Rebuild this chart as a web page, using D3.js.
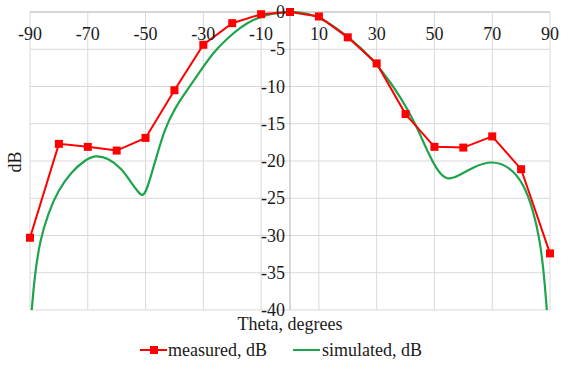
<!DOCTYPE html>
<html>
<head>
<meta charset="utf-8">
<script src="https://cdn.jsdelivr.net/npm/d3@7"></script>
</head>
<body style="margin:0">
<svg id="fig" width="563" height="377"></svg>
<script>
// measured pattern, every 10 degrees
var measuredAngle = [-90, -80, -70, -60, -50, -40, -30, -20, -10, 0, 10, 20, 30, 40, 50, 60, 70, 80, 90]
var measuredDb = [-30.3, -17.7, -18.1, -18.6, -16.9, -10.5, -4.4, -1.5, -0.3, 0, -0.6, -3.4, -6.9, -13.7, -18.1, -18.2, -16.7, -21.1, -32.4]

// simulated pattern
var simAngle = [-89.4, -88.3, -86.5, -83.7, -80.2, -75.6, -71, -67.5, -62.9, -58.3, -55, -52.5, -51.2, -50, -48.2, -46.4, -43.5, -40, -35.8, -31.2, -26.5, -21.9, -17.3, -12.7, -8.1, -3.5, 0,
  2.8, 6, 10.8, 17.7, 24.7, 31.6, 38.5, 43.7, 47.3, 50.8, 54.2, 58.8, 63.5, 69.8, 76.2, 80.8, 84.2, 86.5, 87.9, 88.9]
var simDb = [-40, -35.1, -30.6, -27, -23.9, -21.4, -19.9, -19.2, -19.6, -21.0, -22.9, -24.2, -24.7, -24.3, -22.1, -19.7, -15.8, -13.0, -10.6, -8.0, -5.4, -3.6, -2.1, -1.0, -0.4, -0.05, 0,
  0, -0.2, -0.8, -2.6, -4.8, -7.7, -11.5, -15.2, -18.5, -21.2, -22.7, -21.9, -20.8, -19.9, -20.8, -23, -26.6, -30.6, -35.1, -40]

var xTicks = [-90, -70, -50, -30, -10, 10, 30, 50, 70, 90]
var yTicks = [0, -5, -10, -15, -20, -25, -30, -35, -40]

var ink = "#1a1a1a"

var svg = d3.select("#fig")

var x = d3.scaleLinear().domain([-90, 90]).range([30, 550])
var y = d3.scaleLinear().domain([-40, 0]).range([310, 12])

// grid
svg.append("g")
  .selectAll("line")
  .data(yTicks)
  .enter()
  .append("line")
  .attr("x1", x(-90)).attr("x2", x(90))
  .attr("y1", d => y(d)).attr("y2", d => y(d))
  .attr("stroke", "#d9d9d9").attr("stroke-width", 1)

svg.append("g")
  .selectAll("line")
  .data(xTicks)
  .enter()
  .append("line")
  .attr("x1", d => x(d)).attr("x2", d => x(d))
  .attr("y1", y(0)).attr("y2", y(-40))
  .attr("stroke", "#d9d9d9").attr("stroke-width", 1)

// axis lines
svg.append("line")
  .attr("x1", x(0)).attr("x2", x(0))
  .attr("y1", y(0)).attr("y2", y(-40))
  .attr("stroke", "#bfbfbf").attr("stroke-width", 1.2)
svg.append("line")
  .attr("x1", x(-90)).attr("x2", x(90))
  .attr("y1", y(0)).attr("y2", y(0))
  .attr("stroke", "#bfbfbf").attr("stroke-width", 1.2)

// series
var sim = simAngle.map((a, i) => [a, simDb[i]])
var meas = measuredAngle.map((a, i) => [a, measuredDb[i]])

svg.append("path")
  .datum(sim)
  .attr("fill", "none")
  .attr("stroke", "#1ea44d")
  .attr("stroke-width", 2.2)
  .attr("d", d3.line().x(d => x(d[0])).y(d => y(d[1])).curve(d3.curveBasis))

svg.append("path")
  .datum(meas)
  .attr("fill", "none")
  .attr("stroke", "#ff0000")
  .attr("stroke-width", 2)
  .attr("d", d3.line().x(d => x(d[0])).y(d => y(d[1])))

svg.append("g")
  .selectAll("rect")
  .data(meas)
  .enter()
  .append("rect")
  .attr("x", d => x(d[0]) - 4)
  .attr("y", d => y(d[1]) - 4)
  .attr("width", 8).attr("height", 8)
  .attr("fill", "#ff0000")

// all texts in one list, drawn the same way as plain svg text
var texts = []
xTicks.forEach(d => texts.push({t: String(d), x: x(d), y: 40, a: "middle"}))
yTicks.forEach(d => texts.push({t: String(d), x: x(0) - 5, y: y(d) + 6, a: "end"}))
texts.push({t: "Theta, degrees", x: 290, y: 330, a: "middle"})
texts.push({t: "measured, dB", x: 168, y: 356, a: "start"})
texts.push({t: "simulated, dB", x: 322, y: 356, a: "start"})

svg.selectAll("text.lbl")
  .data(texts)
  .enter()
  .append("text")
  .attr("class", "lbl")
  .attr("x", d => d.x)
  .attr("y", d => d.y)
  .attr("text-anchor", d => d.a)
  .attr("font-size", 18)
  .style("font-family", d => "'Times New Roman'")
  .style("fill", ink)
  .text(d => d.t)

svg.append("text")
  .attr("transform", "translate(21,162)rotate(-90)")
  .attr("text-anchor", "middle")
  .attr("font-size", 18)
  .style("font-family", d => "'Times New Roman'")
  .style("fill", ink)
  .text("dB")

// legend marks
var leg = svg.append("g")
leg.append("line")
  .attr("x1", 140).attr("x2", 167).attr("y1", 350).attr("y2", 350)
  .attr("stroke", "#ff0000").attr("stroke-width", 2)
leg.append("rect")
  .attr("x", 150).attr("y", 346).attr("width", 8).attr("height", 8)
  .attr("fill", "#ff0000")
leg.append("line")
  .attr("x1", 293).attr("x2", 320).attr("y1", 350).attr("y2", 350)
  .attr("stroke", "#1ea44d").attr("stroke-width", 2)
</script>
</body>
</html>
